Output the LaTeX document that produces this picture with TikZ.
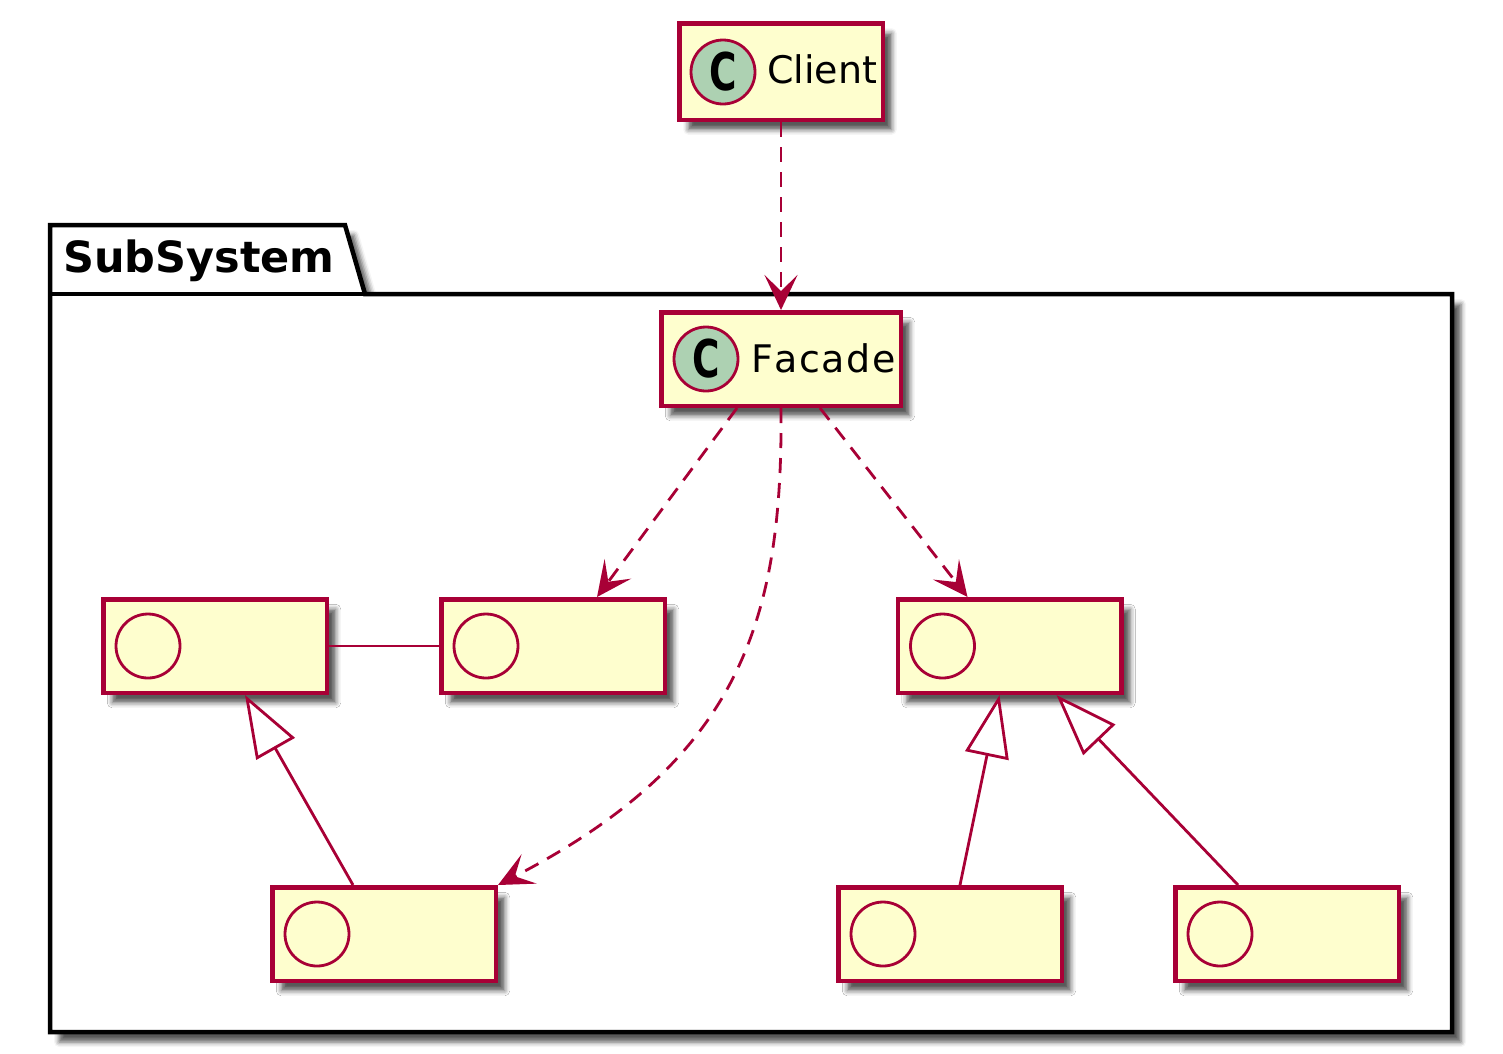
\documentclass[tikz,border=0pt]{standalone}
\usepackage{fontspec}
\setmainfont{DejaVu Sans}
\usetikzlibrary{arrows.meta,shadows.blur}
\definecolor{umlred}{HTML}{A80036}
\definecolor{umlfill}{HTML}{FEFECE}
\definecolor{umlspot}{HTML}{ADD1B2}
\tikzset{
	umlshadow/.style={blur shadow={shadow xshift=9pt,shadow yshift=-10pt,shadow blur radius=5pt,shadow opacity=65}},
	classbox/.style={draw=umlred,fill=umlfill,line width=4.5pt,rectangle,inner sep=0pt,umlshadow},
	spot/.style={draw=umlred,line width=2.8pt,circle,minimum size=64pt,inner sep=0pt},
	dep/.style={draw=umlred,line width=2.8pt,dash pattern=on 15pt off 10pt,-{Stealth[length=35pt,width=33pt,inset=16pt]}},
	ext/.style={draw=umlred,line width=2.8pt,{Triangle[length=62pt,width=44pt,fill=white,line width=2.8pt]}-},
	assoc/.style={draw=umlred,line width=2.8pt},
	classname/.style={inner sep=0pt,anchor=base west,font=\fontsize{38}{40}\selectfont}
}
\newcommand{\spotC}{\scalebox{0.72}[1]{\fontsize{52}{52}\selectfont\bfseries C}}
\begin{document}
\begin{tikzpicture}[x=1pt,y=-1pt]
	\useasboundingbox (0,0) rectangle (1503,1053);
	\draw [line width=4.5pt,fill=white,umlshadow,line join=miter] (50,225) -- (345,225) -- (365,294) -- (1452,294) -- (1452,1032) -- (50,1032) -- cycle;
	\draw [line width=4.5pt] (50,294) -- (365,294);
	\node (pkgname) [inner sep=0pt,anchor=base west,font=\fontsize{43}{45}\selectfont\bfseries] at (63,272) {SubSystem};

	\node (client) [classbox,minimum width=203.5pt,minimum height=96.5pt] at (781,71.5) {};
	\node (clientspot) [spot,fill=umlspot] at (723,72) {\spotC};
	\node (clientname) [classname] at (767,83) {Client};

	\node (facade) [classbox,minimum width=239.5pt,minimum height=93.5pt] at (781,359) {};
	\node (facadespot) [spot,fill=umlspot] at (706,359) {\spotC};
	\node (facadename) [classname] at (751,372) {F\kern1.5pt a\kern1.5pt c\kern1.5pt a\kern1.5pt d\kern1.5pt e};

	\node (a) [classbox,minimum width=223.5pt,minimum height=93.5pt] at (215,646) {};
	\node (b) [classbox,minimum width=223.5pt,minimum height=93.5pt] at (553,646) {};
	\node (c) [classbox,minimum width=223.5pt,minimum height=93.5pt] at (1009.5,646) {};
	\node (d) [classbox,minimum width=223.5pt,minimum height=93.5pt] at (384,934) {};
	\node (e) [classbox,minimum width=223.5pt,minimum height=93.5pt] at (950,934) {};
	\node (f) [classbox,minimum width=223.5pt,minimum height=93.5pt] at (1287,934) {};
	\foreach \n in {a,b,c,d,e,f}
		\node (\n spot) [spot] at ([xshift=47pt]\n.west) {};

	\draw [dep] (client) -- (facade);
	\draw [dep] ([xshift=-44pt]facade.south) -- ([xshift=44pt]b.north);
	\draw [dep] ([xshift=39pt]facade.south) -- ([xshift=-42pt]c.north);
	\draw [dep] (facade.south) .. controls (783,620) and (740,760) .. (d.north east);
	\draw [assoc] (a) -- (b);
	\draw [ext] ([xshift=30pt]a.south) -- ([xshift=-31pt]d.north);
	\draw [ext] ([xshift=-10pt]c.south) -- ([xshift=10pt]e.north);
	\draw [ext] ([xshift=47pt]c.south) -- ([xshift=-49pt]f.north);
\end{tikzpicture}
\end{document}
